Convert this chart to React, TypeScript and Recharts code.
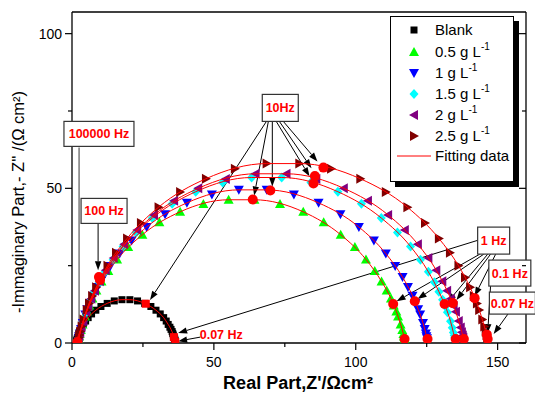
import React from "react";
import { ScatterChart, Scatter, XAxis, YAxis, ReferenceLine, ReferenceDot } from "recharts";

type Pt = [number, number];

const FONT = "'Liberation Sans', Arial, sans-serif";

// axis ticks
const X_TICKS = [0, 25, 50, 75, 100, 125, 150];
const X_LABELED = [0, 50, 100, 150];
const Y_TICKS = [0, 25, 50, 75, 100];
const Y_LABELED = [0, 50, 100];

// measured impedance, Z' / -Z'' (ohm cm2), high -> low frequency
const blank: Pt[] = [
  [1.6, 0.4], [1.6, 0.6], [1.7, 0.9], [1.8, 1.3], [2.0, 1.8], [2.3, 2.6], [2.5, 3.1], [2.7, 3.7], [3.1, 4.4], [3.5, 5.1],
  [4.0, 6.0], [4.8, 7.1], [5.7, 8.2], [6.9, 9.4], [8.4, 10.6], [10.2, 11.8], [12.4, 12.8], [14.9, 13.6], [17.6, 14.0],
  [20.4, 14.0], [23.1, 13.6], [25.6, 12.8], [27.8, 11.8], [29.6, 10.6], [31.1, 9.4], [32.3, 8.2], [33.2, 7.1], [33.9, 6.0],
  [34.5, 5.1], [34.9, 4.4], [35.3, 3.7], [35.5, 3.1], [35.7, 2.6], [36.0, 1.8], [36.2, 1.3], [36.3, 0.9], [36.3, 0.6], [36.4, 0.4],
];
const g05: Pt[] = [
  [2.3, 1.4], [2.5, 2.1], [2.7, 2.9], [3.1, 4.2], [3.7, 6.0], [4.6, 8.6], [5.2, 10.2], [6.1, 12.1], [7.2, 14.4], [8.6, 17.0],
  [10.4, 19.9], [12.8, 23.3], [15.9, 27.0], [19.8, 31.0], [24.8, 35.0], [30.8, 39.0], [38.1, 42.4], [46.3, 44.9], [55.2, 46.3],
  [64.3, 46.3], [73.3, 44.9], [81.5, 42.4], [88.7, 39.0], [94.7, 35.0], [99.7, 31.0], [103.6, 27.0], [106.7, 23.3], [109.1, 19.9],
  [110.9, 17.0], [112.4, 14.4], [113.4, 12.1], [114.3, 10.2], [114.9, 8.6], [115.8, 6.0], [116.4, 4.2], [116.8, 2.9], [117.0, 2.1], [117.2, 1.4],
];
const g1: Pt[] = [
  [2.4, 1.5], [2.5, 2.2], [2.8, 3.1], [3.2, 4.5], [3.8, 6.5], [4.7, 9.2], [5.4, 10.9], [6.3, 12.9], [7.5, 15.3], [9.0, 18.1],
  [11.0, 21.3], [13.5, 24.9], [16.8, 28.9], [21.0, 33.1], [26.3, 37.5], [32.8, 41.6], [40.5, 45.3], [49.3, 48.0], [58.8, 49.5],
  [68.6, 49.5], [78.2, 48.0], [86.9, 45.3], [94.6, 41.6], [101.1, 37.5], [106.4, 33.1], [110.6, 28.9], [113.9, 24.9], [116.5, 21.3],
  [118.4, 18.1], [120.0, 15.3], [121.1, 12.9], [122.0, 10.9], [122.7, 9.2], [123.7, 6.5], [124.3, 4.5], [124.7, 3.1], [124.9, 2.2], [125.1, 1.5],
];
const g15: Pt[] = [
  [2.4, 1.7], [2.6, 2.4], [2.8, 3.4], [3.3, 4.9], [3.9, 7.0], [5.0, 9.9], [5.7, 11.8], [6.7, 14.0], [7.9, 16.6], [9.6, 19.6],
  [11.7, 23.0], [14.5, 26.9], [18.0, 31.2], [22.6, 35.7], [28.3, 40.4], [35.3, 45.0], [43.6, 48.9], [53.1, 51.9], [63.3, 53.5],
  [73.9, 53.5], [84.2, 51.9], [93.7, 48.9], [102.0, 45.0], [109.0, 40.4], [114.7, 35.7], [119.3, 31.2], [122.8, 26.9], [125.6, 23.0],
  [127.7, 19.6], [129.3, 16.6], [130.6, 14.0], [131.6, 11.8], [132.3, 9.9], [133.4, 7.0], [134.0, 4.9], [134.4, 3.4], [134.7, 2.4], [134.9, 1.7],
];
const g2: Pt[] = [
  [2.4, 1.7], [2.6, 2.4], [2.9, 3.5], [3.3, 5.0], [4.0, 7.1], [5.0, 10.1], [5.8, 12.0], [6.8, 14.3], [8.1, 16.9], [9.8, 20.0],
  [11.9, 23.5], [14.7, 27.5], [18.4, 31.9], [23.0, 36.5], [28.9, 41.4], [36.0, 46.0], [44.5, 50.0], [54.2, 53.0], [64.7, 54.7],
  [75.6, 54.7], [86.1, 53.0], [95.8, 50.0], [104.3, 46.0], [111.4, 41.4], [117.3, 36.5], [121.9, 31.9], [125.6, 27.5], [128.4, 23.5],
  [130.5, 20.0], [132.2, 16.9], [133.5, 14.3], [134.5, 12.0], [135.3, 10.1], [136.3, 7.1], [137.0, 5.0], [137.4, 3.5], [137.7, 2.4], [137.9, 1.7],
];
const g25: Pt[] = [
  [2.4, 1.8], [2.6, 2.6], [2.9, 3.7], [3.4, 5.3], [4.1, 7.6], [5.2, 10.7], [6.0, 12.8], [7.1, 15.2], [8.5, 18.0], [10.2, 21.2],
  [12.5, 25.0], [15.5, 29.2], [19.4, 33.8], [24.3, 38.8], [30.5, 43.9], [38.1, 48.8], [47.2, 53.1], [57.4, 56.3], [68.6, 58.0],
  [80.1, 58.0], [91.3, 56.3], [101.6, 53.1], [110.6, 48.8], [118.2, 43.9], [124.4, 38.8], [129.3, 33.8], [133.2, 29.2], [136.2, 25.0],
  [138.5, 21.2], [140.3, 18.0], [141.6, 15.2], [142.7, 12.8], [143.5, 10.7], [144.6, 7.6], [145.3, 5.3], [145.8, 3.7], [146.1, 2.6], [146.3, 1.8],
];

// fitted curves
const fitBlank: Pt[] = [
  [1.6, 0.4], [1.7, 0.9], [2.0, 1.8], [2.5, 3.1], [3.1, 4.4], [4.0, 6.0], [5.7, 8.2], [8.4, 10.6], [12.4, 12.8], [17.6, 14.0],
  [20.4, 14.0], [25.6, 12.8], [29.6, 10.6], [32.3, 8.2], [33.9, 6.0], [34.9, 4.4], [35.5, 3.1], [36.0, 1.8], [36.3, 0.9], [36.4, 0.4],
];
const fit05: Pt[] = [
  [2.3, 1.4], [2.7, 2.9], [3.7, 6.0], [5.2, 10.2], [7.2, 14.4], [10.4, 19.9], [15.9, 27.0], [24.8, 35.0], [38.1, 42.4], [55.2, 46.3],
  [64.3, 46.3], [81.5, 42.4], [94.7, 35.0], [103.6, 27.0], [109.1, 19.9], [112.4, 14.4], [114.3, 10.2], [115.8, 6.0], [116.8, 2.9], [117.2, 1.4],
];
const fit1: Pt[] = [
  [2.4, 1.5], [2.8, 3.1], [3.8, 6.5], [5.4, 10.9], [7.5, 15.3], [11.0, 21.3], [16.8, 28.9], [26.3, 37.5], [40.5, 45.3], [58.8, 49.5],
  [68.6, 49.5], [86.9, 45.3], [101.1, 37.5], [110.6, 28.9], [116.5, 21.3], [120.0, 15.3], [122.0, 10.9], [123.7, 6.5], [124.7, 3.1], [125.1, 1.5],
];
const fit15: Pt[] = [
  [2.4, 1.7], [2.8, 3.4], [3.9, 7.0], [5.7, 11.8], [7.9, 16.6], [11.7, 23.0], [18.0, 31.2], [28.3, 40.4], [43.6, 48.9], [63.3, 53.5],
  [73.9, 53.5], [93.7, 48.9], [109.0, 40.4], [119.3, 31.2], [125.6, 23.0], [129.3, 16.6], [131.6, 11.8], [133.4, 7.0], [134.4, 3.4], [134.9, 1.7],
];
const fit2: Pt[] = [
  [2.4, 1.7], [2.9, 3.5], [4.0, 7.1], [5.8, 12.0], [8.1, 16.9], [11.9, 23.5], [18.4, 31.9], [28.9, 41.4], [44.5, 50.0], [64.7, 54.7],
  [75.6, 54.7], [95.8, 50.0], [111.4, 41.4], [121.9, 31.9], [128.4, 23.5], [132.2, 16.9], [134.5, 12.0], [136.3, 7.1], [137.4, 3.5], [137.9, 1.7],
];
const fit25: Pt[] = [
  [2.4, 1.8], [2.9, 3.7], [4.1, 7.6], [6.0, 12.8], [8.5, 18.0], [12.5, 25.0], [19.4, 33.8], [30.5, 43.9], [47.2, 53.1], [68.6, 58.0],
  [80.1, 58.0], [101.6, 53.1], [118.2, 43.9], [129.3, 33.8], [136.2, 25.0], [140.3, 18.0], [142.7, 12.8], [144.6, 7.6], [145.8, 3.7], [146.3, 1.8],
];

// highlighted frequencies (100 kHz, 100 Hz, 10 Hz, 1 Hz, 0.1 Hz, 0.07 Hz)
const freqMarks: Pt[] = [
  [1.9, 0.3], [9.5, 21.3], [9.9, 20.4],
  [63.7, 46.4], [69.9, 49.3], [85.1, 51.6], [85.6, 54.0], [88.6, 56.7],
  [113.2, 12.6], [120.8, 13.5], [131.3, 12.6], [134.2, 12.9], [141.9, 14.5],
  [146.2, 2.7],
  [117.2, 1.3], [125.3, 1.3], [135.2, 1.3], [138.1, 1.3], [146.5, 1.3],
];
const blankMarks: Pt[] = [[26.0, 12.7], [35.9, 1.9], [36.4, 0.3]];

// callouts: label, anchor (data units), box size px
const CALLOUTS = [
  { text: "100000 Hz", at: [9.5, 67.6], w: 70, h: 25, boxed: true },
  { text: "100 Hz", at: [11.3, 42.7], w: 46, h: 25, boxed: true },
  { text: "10Hz", at: [73.4, 76.0], w: 36, h: 27, boxed: true },
  { text: "1 Hz", at: [148.6, 33.1], w: 32, h: 27, boxed: true },
  { text: "0.1 Hz", at: [154.3, 22.6], w: 42, h: 26, boxed: true },
  { text: "0.07 Hz", at: [155.2, 12.9], w: 46, h: 22, boxed: true },
  { text: "0.07 Hz", at: [52.6, 2.6], w: 46, h: 20, boxed: false },
];

const ARROWS: { from: Pt; to: Pt; gray?: boolean }[] = [
  { from: [2.5, 63.2], to: [2.5, 1.6], gray: true },
  { from: [9.2, 38.7], to: [9.2, 23.5] },
  { from: [68.5, 71.6], to: [27.5, 13.9] },
  { from: [69.2, 71.6], to: [64.2, 47.7] },
  { from: [70.6, 71.6], to: [70.6, 50.6] },
  { from: [72.0, 71.6], to: [83.7, 53.9] },
  { from: [73.1, 71.6], to: [84.4, 56.5] },
  { from: [74.5, 71.6], to: [86.5, 58.7] },
  { from: [143.0, 33.2], to: [37.4, 3.2] },
  { from: [143.7, 28.7], to: [114.4, 13.5] },
  { from: [145.1, 28.7], to: [121.8, 14.2] },
  { from: [146.5, 28.7], to: [132.4, 13.2] },
  { from: [147.5, 28.7], to: [135.5, 13.9] },
  { from: [149.3, 28.7], to: [141.9, 15.2] },
  { from: [147.5, 18.4], to: [146.5, 3.2] },
  { from: [153.9, 9.7], to: [148.6, 2.9] },
  { from: [45.2, 1.9], to: [37.4, 0.6] },
];

const toXY = (pts: Pt[]) => pts.map(([x, y]) => ({ x, y }));

const marker = (kind: string, color: string) => (p: any) => {
  const { cx, cy } = p;
  if (cx == null || cy == null) return <g />;
  switch (kind) {
    case "square":
      return <rect x={cx - 3.5} y={cy - 3.5} width={7} height={7} fill={color} />;
    case "up":
      return <polygon points={`${cx},${cy - 5} ${cx + 5},${cy + 4} ${cx - 5},${cy + 4}`} fill={color} />;
    case "down":
      return <polygon points={`${cx - 5},${cy - 4} ${cx + 5},${cy - 4} ${cx},${cy + 5}`} fill={color} />;
    case "diamond":
      return <polygon points={`${cx},${cy - 5} ${cx + 4.5},${cy} ${cx},${cy + 5} ${cx - 4.5},${cy}`} fill={color} />;
    case "left":
      return <polygon points={`${cx - 5},${cy} ${cx + 4},${cy - 5} ${cx + 4},${cy + 5}`} fill={color} />;
    case "right":
      return <polygon points={`${cx + 5},${cy} ${cx - 4},${cy - 5} ${cx - 4},${cy + 5}`} fill={color} />;
    case "circle":
      return <circle cx={cx} cy={cy} r={5} fill={color} />;
    case "bigsquare":
      return <rect x={cx - 4} y={cy - 4} width={8} height={8} fill={color} />;
    default:
      return <g />;
  }
};

const noDot = () => <g />;

const Arrow = (p: any) => {
  const { x1, y1, x2, y2 } = p;
  const a = Math.atan2(y2 - y1, x2 - x1);
  const L = 9;
  const W = 3.2;
  const bx = x2 - L * Math.cos(a);
  const by = y2 - L * Math.sin(a);
  const pts = `${x2},${y2} ${bx - W * Math.sin(a)},${by + W * Math.cos(a)} ${bx + W * Math.sin(a)},${by - W * Math.cos(a)}`;
  return (
    <g>
      <line x1={x1} y1={y1} x2={bx} y2={by} stroke={p.gray ? "#808080" : "#000"} strokeWidth={p.gray ? 1.6 : 1} />
      <polygon points={pts} fill="#000" />
    </g>
  );
};

const callout = (text: string, w: number, h: number, boxed: boolean) => (p: any) => (
  <g>
    {boxed && (
      <rect x={p.cx - w / 2} y={p.cy - h / 2} width={w} height={h} fill="#fff" stroke="#333" strokeWidth={1.2} />
    )}
    <text x={p.cx} y={p.cy + 4.5} textAnchor="middle" fill="#ff0000" fontWeight="bold" fontSize={12.5} fontFamily={FONT}>
      {text}
    </text>
  </g>
);

const tickText = { fontSize: 14, fill: "#000", fontFamily: FONT };

const BottomTick = (p: any) => {
  const { x, y, payload } = p;
  const major = X_LABELED.includes(payload.value);
  return (
    <g>
      <line x1={x} y1={y} x2={x} y2={y + (major ? 7 : 4)} stroke="#000" strokeWidth={1.2} />
      {major && <text x={x} y={y + 24} textAnchor="middle" {...tickText}>{payload.value}</text>}
    </g>
  );
};
const TopTick = (p: any) => {
  const { x, y, payload } = p;
  const major = X_LABELED.includes(payload.value);
  return <line x1={x} y1={y} x2={x} y2={y + (major ? 7 : 4)} stroke="#000" strokeWidth={1.2} />;
};
const LeftTick = (p: any) => {
  const { x, y, payload } = p;
  const major = Y_LABELED.includes(payload.value);
  return (
    <g>
      <line x1={x} y1={y} x2={x - (major ? 7 : 4)} y2={y} stroke="#000" strokeWidth={1.2} />
      {major && <text x={x - 10} y={y + 5} textAnchor="end" {...tickText}>{payload.value}</text>}
    </g>
  );
};
const RightTick = (p: any) => {
  const { x, y, payload } = p;
  const major = Y_LABELED.includes(payload.value);
  return <line x1={x} y1={y} x2={x - (major ? 7 : 4)} y2={y} stroke="#000" strokeWidth={1.2} />;
};

const SERIES = [
  { name: "Blank", data: blank, kind: "square", color: "#000000", sup: false },
  { name: "0.5 g L", data: g05, kind: "up", color: "#00ff00", sup: true },
  { name: "1 g L", data: g1, kind: "down", color: "#0000ff", sup: true },
  { name: "1.5 g L", data: g15, kind: "diamond", color: "#00ffff", sup: true },
  { name: "2 g L", data: g2, kind: "left", color: "#800080", sup: true },
  { name: "2.5 g L", data: g25, kind: "right", color: "#800000", sup: true },
];
const FITS = [fitBlank, fit05, fit1, fit15, fit2, fit25];

const axisLine = { stroke: "#000", strokeWidth: 1.3 };

const Legend = () => {
  const rows = [13, 35, 56, 77, 98, 119];
  return (
    <div
      style={{
        position: "absolute", left: 390, top: 16, width: 124, height: 166, boxSizing: "border-box",
        border: "1px solid #000", background: "#fff", boxShadow: "5px 5px 0 #000",
        fontFamily: FONT, fontSize: 15, color: "#000",
      }}
    >
      {SERIES.map((s, i) => (
        <div key={s.name} style={{ position: "absolute", left: 0, top: rows[i] - 10, height: 20, width: 124 }}>
          <svg width={20} height={20} style={{ position: "absolute", left: 13, top: 0 }}>
            {marker(s.kind, s.color)({ cx: 10, cy: 10 })}
          </svg>
          <span style={{ position: "absolute", left: 44, top: 1, whiteSpace: "nowrap", lineHeight: "18px" }}>
            {s.name}
            {s.sup && <span style={{ fontSize: 10, position: "relative", top: -7 }}>-1</span>}
          </span>
        </div>
      ))}
      <div style={{ position: "absolute", left: 0, top: 129, height: 20, width: 124 }}>
        <svg width={36} height={20} style={{ position: "absolute", left: 6, top: 0 }}>
          <line x1={0} y1={10} x2={34} y2={10} stroke="#ff0000" strokeWidth={1} />
        </svg>
        <span style={{ position: "absolute", left: 44, top: 1, whiteSpace: "nowrap", lineHeight: "18px" }}>Fitting data</span>
      </div>
    </div>
  );
};

export default function App() {
  return (
    <div style={{ position: "absolute", left: 0, top: 0, width: 535, height: 394, background: "#fff", overflow: "hidden" }}>
      <ScatterChart width={535} height={394} margin={{ top: 11, right: 8, bottom: 50, left: 71 }}>
        <XAxis
          xAxisId={0} dataKey="x" type="number" domain={[0, 160]} ticks={X_TICKS} interval={0}
          height={1} tickSize={0} tickMargin={0} tickLine={false} tick={BottomTick} axisLine={axisLine} allowDataOverflow
        />
        <XAxis
          xAxisId="top" orientation="top" type="number" domain={[0, 160]} ticks={X_TICKS} interval={0}
          height={1} tickSize={0} tickMargin={0} tickLine={false} tick={TopTick} axisLine={axisLine} allowDataOverflow
        />
        <YAxis
          yAxisId={0} dataKey="y" type="number" domain={[0, 107]} ticks={Y_TICKS} interval={0}
          width={1} tickSize={0} tickMargin={0} tickLine={false} tick={LeftTick} axisLine={axisLine} allowDataOverflow
        />
        <YAxis
          yAxisId="right" orientation="right" type="number" domain={[0, 107]} ticks={Y_TICKS} interval={0}
          width={1} tickSize={0} tickMargin={0} tickLine={false} tick={RightTick} axisLine={axisLine} allowDataOverflow
        />

        {SERIES.map((s) => (
          <Scatter key={s.name} name={s.name} data={toXY(s.data)} fill={s.color} shape={marker(s.kind, s.color)} isAnimationActive={false} />
        ))}

        {FITS.map((f, i) => (
          <Scatter
            key={"fit" + i}
            data={toXY(f)}
            fill="#ff0000"
            line={{ stroke: "#ff0000", strokeWidth: 1 }}
            lineType="joint"
            lineJointType="monotoneX"
            shape={noDot}
            isAnimationActive={false}
          />
        ))}

        <Scatter data={toXY(freqMarks)} fill="#ff0000" shape={marker("circle", "#ff0000")} isAnimationActive={false} />
        <Scatter data={toXY(blankMarks)} fill="#ff0000" shape={marker("bigsquare", "#ff0000")} isAnimationActive={false} />

        {ARROWS.map((a, i) => (
          <ReferenceLine
            key={"ar" + i}
            segment={[{ x: a.from[0], y: a.from[1] }, { x: a.to[0], y: a.to[1] }]}
            ifOverflow="visible"
            shape={(p: any) => <Arrow {...p} gray={a.gray} />}
          />
        ))}

        {CALLOUTS.map((c, i) => (
          <ReferenceDot key={"co" + i} x={c.at[0]} y={c.at[1]} ifOverflow="visible" shape={callout(c.text, c.w, c.h, c.boxed)} />
        ))}
      </ScatterChart>

      <Legend />

      <div
        style={{
          position: "absolute", left: 298, top: 383, transform: "translate(-50%, -50%)", whiteSpace: "nowrap",
          fontFamily: FONT, fontSize: 18, fontWeight: "bold", color: "#000",
        }}
      >
        Real Part,Z'/Ωcm²
      </div>
      <div
        style={{
          position: "absolute", left: 18, top: 202, transform: "translate(-50%, -50%) rotate(-90deg)", whiteSpace: "nowrap",
          fontFamily: FONT, fontSize: 16.5, color: "#000",
        }}
      >
        -Immaginary Part,- Z'' /(Ω cm²)
      </div>
    </div>
  );
}
